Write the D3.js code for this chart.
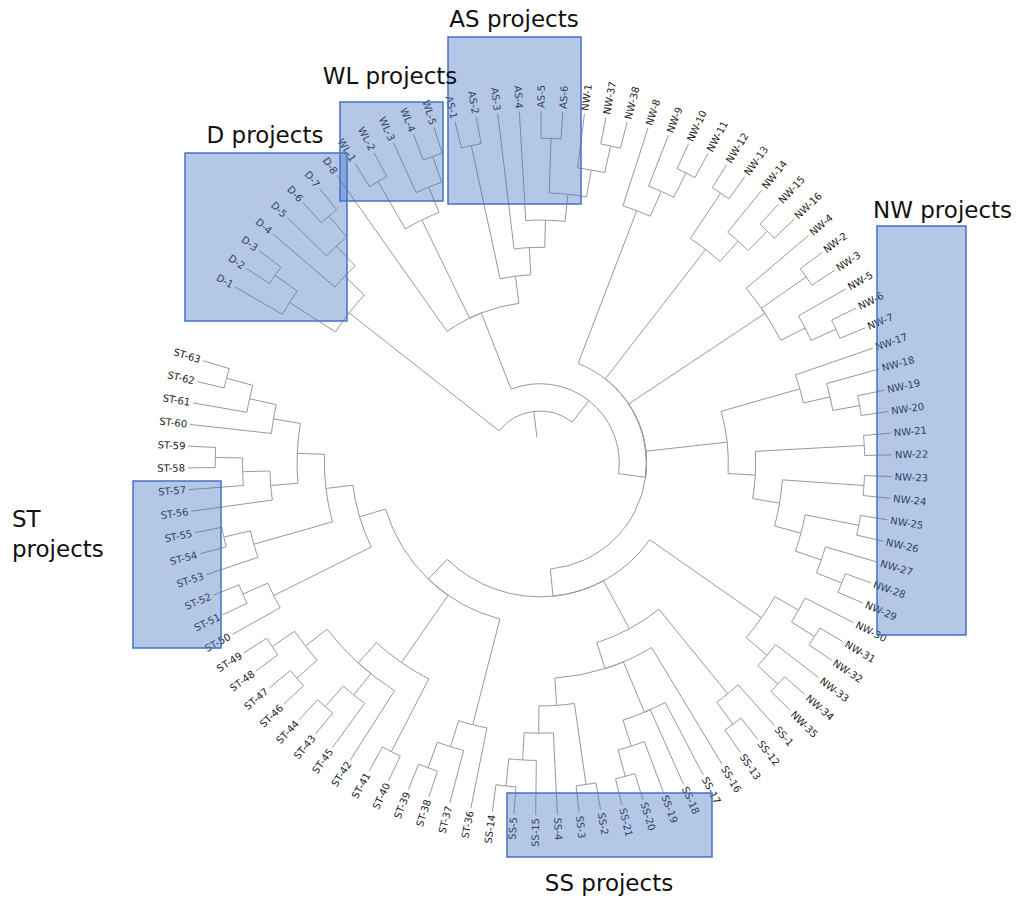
<!DOCTYPE html>
<html>
<head>
<meta charset="utf-8">
<style>
  body { margin: 0; background: #fff; }
  .link { fill: none; stroke: #999; stroke-width: 1px; }
  .leaf-label { font: 10px "DejaVu Sans", sans-serif; fill: #222; }
  .box { fill: rgba(68, 114, 196, 0.4); stroke: #4472c4; stroke-width: 1.5px; }
  .title { font: 23px "DejaVu Sans", sans-serif; fill: #111; }
</style>
</head>
<body>
<svg id="chart" width="1019" height="900"></svg>
<script src="https://cdn.jsdelivr.net/npm/d3@7/dist/d3.min.js"></script>
<script>
// leaves, clockwise starting at D-1
const leafNames = [
  'D-1', 'D-2', 'D-3', 'D-4', 'D-5', 'D-6', 'D-7', 'D-8',
  'WL-1', 'WL-2', 'WL-3', 'WL-4', 'WL-5',
  'AS-1', 'AS-2', 'AS-3', 'AS-4', 'AS-5', 'AS-6',
  'NW-1', 'NW-37', 'NW-38', 'NW-8', 'NW-9', 'NW-10', 'NW-11', 'NW-12', 'NW-13',
  'NW-14', 'NW-15', 'NW-16', 'NW-4', 'NW-2', 'NW-3', 'NW-5', 'NW-6', 'NW-7',
  'NW-17', 'NW-18', 'NW-19', 'NW-20', 'NW-21', 'NW-22', 'NW-23', 'NW-24', 'NW-25',
  'NW-26', 'NW-27', 'NW-28', 'NW-29', 'NW-30', 'NW-31', 'NW-32', 'NW-33', 'NW-34', 'NW-35',
  'SS-1', 'SS-12', 'SS-13', 'SS-16', 'SS-17', 'SS-18', 'SS-19', 'SS-20', 'SS-21',
  'SS-2', 'SS-3', 'SS-4', 'SS-15', 'SS-5', 'SS-14',
  'ST-36', 'ST-37', 'ST-38', 'ST-39', 'ST-40', 'ST-41', 'ST-42', 'ST-45', 'ST-43', 'ST-44',
  'ST-46', 'ST-47', 'ST-48', 'ST-49', 'ST-50', 'ST-51', 'ST-52', 'ST-53', 'ST-54', 'ST-55',
  'ST-56', 'ST-57', 'ST-58', 'ST-59', 'ST-60', 'ST-61', 'ST-62', 'ST-63'
];

// internal nodes: [id, children in clockwise order]
const clusters = [
  ['root', ['dA', 'r2']],
  ['dA', ['d1', 'd4']],
  ['d1', ['D-1', 'd23']],
  ['d23', ['D-2', 'D-3']],
  ['d4', ['D-4', 'd5']],
  ['d5', ['D-5', 'd67']],
  ['d67', ['D-6', 'D-7']],
  ['r2', ['x', 'r3']],
  ['x', ['D-8', 'wl', 'as']],
  ['wl', ['wl12', 'wl3']],
  ['wl12', ['WL-1', 'WL-2']],
  ['wl3', ['WL-3', 'wl45']],
  ['wl45', ['WL-4', 'WL-5']],
  ['as', ['as12', 'as3']],
  ['as12', ['AS-1', 'AS-2']],
  ['as3', ['AS-3', 'as4']],
  ['as4', ['AS-4', 'as5']],
  ['as5', ['as56', 'nw1']],
  ['as56', ['AS-5', 'AS-6']],
  ['nw1', ['NW-1', 'nw3738']],
  ['nw3738', ['NW-37', 'NW-38']],
  ['r3', ['nw8', 'nw12', 'nw4', 'nw17', 'low']],
  ['nw8', ['NW-8', 'nw9']],
  ['nw9', ['NW-9', 'nw1011']],
  ['nw1011', ['NW-10', 'NW-11']],
  ['nw12', ['nw1213', 'nw14']],
  ['nw1213', ['NW-12', 'NW-13']],
  ['nw14', ['NW-14', 'nw1516']],
  ['nw1516', ['NW-15', 'NW-16']],
  ['nw4', ['NW-4', 'nw23', 'nw5']],
  ['nw23', ['NW-2', 'NW-3']],
  ['nw5', ['NW-5', 'nw67']],
  ['nw67', ['NW-6', 'NW-7']],
  ['nw17', ['nw17a', 'nw21']],
  ['nw17a', ['NW-17', 'nw18']],
  ['nw18', ['NW-18', 'nw1920']],
  ['nw1920', ['NW-19', 'NW-20']],
  ['nw21', ['nw2122', 'nw23b']],
  ['nw2122', ['NW-21', 'NW-22']],
  ['nw23b', ['nw2324', 'nw25']],
  ['nw2324', ['NW-23', 'NW-24']],
  ['nw25', ['nw2526', 'nw27']],
  ['nw2526', ['NW-25', 'NW-26']],
  ['nw27', ['NW-27', 'nw2829']],
  ['nw2829', ['NW-28', 'NW-29']],
  ['low', ['nw30', 'ss', 'st']],
  ['nw30', ['nw30a', 'nw33']],
  ['nw30a', ['NW-30', 'nw3132']],
  ['nw3132', ['NW-31', 'NW-32']],
  ['nw33', ['NW-33', 'nw3435']],
  ['nw3435', ['NW-34', 'NW-35']],
  ['ss', ['ss1', 'ss16']],
  ['ss1', ['SS-1', 'ss1213']],
  ['ss1213', ['SS-12', 'SS-13']],
  ['ss16', ['SS-16', 'ss17', 'ss2']],
  ['ss17', ['SS-17', 'SS-18', 'ss19']],
  ['ss19', ['SS-19', 'ss2021']],
  ['ss2021', ['SS-20', 'SS-21']],
  ['ss2', ['ss23', 'ss4']],
  ['ss23', ['SS-2', 'SS-3']],
  ['ss4', ['SS-4', 'ss15']],
  ['ss15', ['SS-15', 'ss514']],
  ['ss514', ['SS-5', 'SS-14']],
  ['st', ['st36', 'st40', 'st50']],
  ['st36', ['ST-36', 'st37']],
  ['st37', ['ST-37', 'st3839']],
  ['st3839', ['ST-38', 'ST-39']],
  ['st40', ['st4041', 'st42']],
  ['st4041', ['ST-40', 'ST-41']],
  ['st42', ['ST-42', 'st45', 'st46']],
  ['st45', ['ST-45', 'st4344']],
  ['st4344', ['ST-43', 'ST-44']],
  ['st46', ['st4647', 'st4849']],
  ['st4647', ['ST-46', 'ST-47']],
  ['st4849', ['ST-48', 'ST-49']],
  ['st50', ['st50a', 'st53']],
  ['st50a', ['ST-50', 'st5152']],
  ['st5152', ['ST-51', 'ST-52']],
  ['st53', ['st53a', 'st56']],
  ['st53a', ['ST-53', 'st5455']],
  ['st5455', ['ST-54', 'ST-55']],
  ['st56', ['st56a', 'st60']],
  ['st56a', ['ST-56', 'st57']],
  ['st57', ['ST-57', 'st5859']],
  ['st5859', ['ST-58', 'ST-59']],
  ['st60', ['ST-60', 'st61']],
  ['st61', ['ST-61', 'st6263']],
  ['st6263', ['ST-62', 'ST-63']]
];

const groupTitles = [
  ['AS projects'], ['WL projects'], ['D projects'], ['NW projects'], ['ST', 'projects'], ['SS projects']
];

// ---------- layout ----------
const cx = 540, cy = 463;
const leafRadius = 352, rootRadius = 52, rootEdgeInner = 26, labelOffset = 355;
const titleLayout = [
  { x: 514, y: 27, anchor: 'middle' },
  { x: 390, y: 84, anchor: 'middle' },
  { x: 265, y: 143, anchor: 'middle' },
  { x: 873, y: 218, anchor: 'start' },
  { x: 12, y: 527, anchor: 'start' },
  { x: 609, y: 891, anchor: 'middle' }
];
const boxLayout = [
  { x: 448, y: 37, w: 133, h: 167 },
  { x: 340, y: 102, w: 103, h: 99 },
  { x: 185, y: 153, w: 162, h: 168 },
  { x: 877, y: 226, w: 89, h: 409 },
  { x: 133, y: 481, w: 88, h: 167 },
  { x: 507, y: 793, w: 205, h: 64 }
];

const svg = d3.select('#chart');

/* ----------build hierarchy------------*/
const kidsOf = new Map(clusters);
function build(id) {
  const kids = kidsOf.get(id);
  return kids ? { name: id, children: kids.map(build) } : { name: id };
}
const root = d3.hierarchy(build('root'));

const angleScale = d3.scaleLinear().domain([0, leafNames.length - 1]).range([-60, 286.9]);
const radiusScale = d3.scaleLinear().domain([0, root.height]).range([leafRadius, rootRadius]);

root.leaves().forEach(d => { d.angle = angleScale(leafNames.indexOf(d.data.name)); });
root.eachAfter(d => {
  if (d.children) {
    d.angle = (d.children[0].angle + d.children[d.children.length - 1].angle) / 2;
  }
  d.r = radiusScale(d.height);
});

const rad = a => (a - 90) * Math.PI / 180;
const pt = (a, r) => [cx + r * Math.cos(rad(a)), cy + r * Math.sin(rad(a))];

function linkPath(d) {
  const p = d.parent;
  const path = d3.path();
  const [x0, y0] = pt(d.angle, d.r);
  const [x1, y1] = pt(d.angle, p.r);
  path.moveTo(x0, y0);
  path.lineTo(x1, y1);
  path.arc(cx, cy, p.r, rad(d.angle), rad(p.angle), p.angle < d.angle);
  return path.toString();
}

const g = svg.append('g');

g.selectAll('path.link')
  .data(root.descendants().filter(d => d.parent))
  .join('path')
  .attr('class', 'link')
  .attr('d', linkPath);

// root edge
const [rx0, ry0] = pt(root.angle, rootEdgeInner);
const [rx1, ry1] = pt(root.angle, root.r);
g.append('path').attr('class', 'link').attr('d', `M${rx0},${ry0}L${rx1},${ry1}`);

/* ----------leaf labels------------*/
const norm = a => ((a % 360) + 360) % 360;
g.selectAll('text.leaf-label')
  .data(root.leaves())
  .join('text')
  .attr('class', 'leaf-label')
  .attr('dy', '0.35em')
  .attr('transform', d => {
    const a = norm(d.angle);
    return `translate(${cx},${cy}) rotate(${a - 90}) translate(${labelOffset},0)` + (a > 180 ? ' rotate(180)' : '');
  })
  .attr('text-anchor', d => norm(d.angle) > 180 ? 'end' : 'start')
  .text(d => d.data.name);

/* ----------highlight boxes and titles------------*/
svg.selectAll('rect.box')
  .data(boxLayout)
  .join('rect')
  .attr('class', 'box')
  .attr('x', d => d.x).attr('y', d => d.y)
  .attr('width', d => d.w).attr('height', d => d.h);

groupTitles.forEach((lines, i) => {
  const t = titleLayout[i];
  const txt = svg.append('text')
    .attr('class', 'title')
    .attr('x', t.x).attr('y', t.y)
    .attr('text-anchor', t.anchor);
  lines.forEach((line, j) => {
    txt.append('tspan').attr('x', t.x).attr('dy', j === 0 ? 0 : 30).text(line);
  });
});
</script>
</body>
</html>
